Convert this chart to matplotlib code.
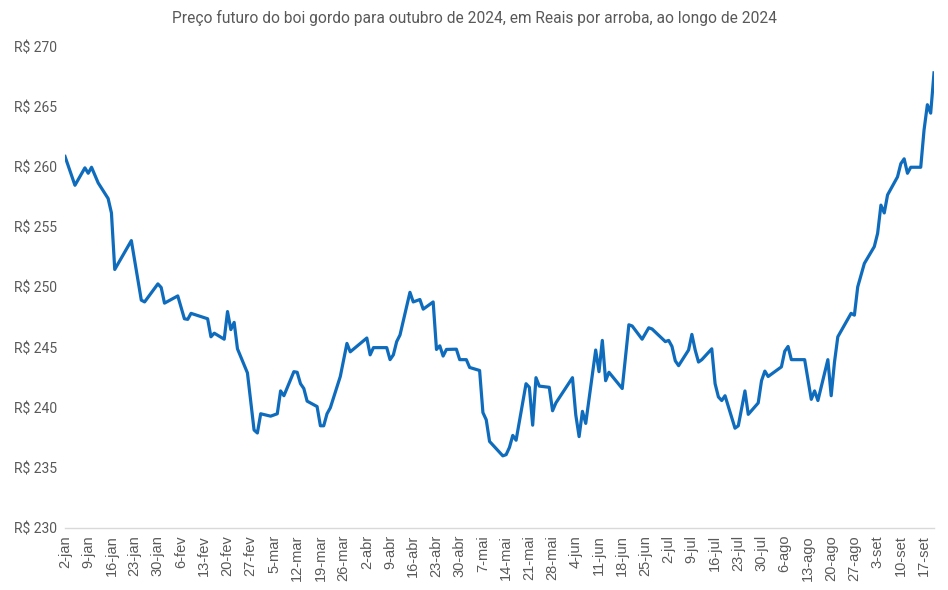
import matplotlib
matplotlib.use("Agg")
import matplotlib.pyplot as plt
import pandas as pd
import numpy as np

# --- data ---
dates = [
    "2024-01-02", "2024-01-05", "2024-01-08", "2024-01-09", "2024-01-10", "2024-01-12",
    "2024-01-15", "2024-01-16", "2024-01-17", "2024-01-22", "2024-01-25", "2024-01-26",
    "2024-01-30", "2024-01-31", "2024-02-01", "2024-02-05", "2024-02-07", "2024-02-08",
    "2024-02-09", "2024-02-14", "2024-02-15", "2024-02-16", "2024-02-19", "2024-02-20",
    "2024-02-21", "2024-02-22", "2024-02-23", "2024-02-26", "2024-02-28", "2024-02-29",
    "2024-03-01", "2024-03-04", "2024-03-06", "2024-03-07", "2024-03-08", "2024-03-11",
    "2024-03-12", "2024-03-13", "2024-03-14", "2024-03-15", "2024-03-18", "2024-03-19",
    "2024-03-20", "2024-03-21", "2024-03-22", "2024-03-25", "2024-03-27", "2024-03-28",
    "2024-04-02", "2024-04-03", "2024-04-04", "2024-04-08", "2024-04-09", "2024-04-10",
    "2024-04-11", "2024-04-12", "2024-04-15", "2024-04-16", "2024-04-18", "2024-04-19",
    "2024-04-22", "2024-04-23", "2024-04-24", "2024-04-25", "2024-04-26", "2024-04-29",
    "2024-04-30", "2024-05-02", "2024-05-03", "2024-05-06", "2024-05-07", "2024-05-08",
    "2024-05-09", "2024-05-13", "2024-05-14", "2024-05-15", "2024-05-16", "2024-05-17",
    "2024-05-20", "2024-05-21", "2024-05-22", "2024-05-23", "2024-05-24", "2024-05-27",
    "2024-05-28", "2024-05-29", "2024-06-03", "2024-06-04", "2024-06-05", "2024-06-06",
    "2024-06-07", "2024-06-10", "2024-06-11", "2024-06-12", "2024-06-13", "2024-06-14",
    "2024-06-18", "2024-06-20", "2024-06-21", "2024-06-24", "2024-06-26", "2024-06-27",
    "2024-07-01", "2024-07-02", "2024-07-03", "2024-07-04", "2024-07-05", "2024-07-08",
    "2024-07-09", "2024-07-10", "2024-07-11", "2024-07-12", "2024-07-15", "2024-07-16",
    "2024-07-17", "2024-07-18", "2024-07-19", "2024-07-22", "2024-07-23", "2024-07-25",
    "2024-07-26", "2024-07-29", "2024-07-30", "2024-07-31", "2024-08-01", "2024-08-05",
    "2024-08-06", "2024-08-07", "2024-08-08", "2024-08-12", "2024-08-14", "2024-08-15",
    "2024-08-16", "2024-08-19", "2024-08-20", "2024-08-21", "2024-08-22", "2024-08-26",
    "2024-08-27", "2024-08-28", "2024-08-30", "2024-09-02", "2024-09-03", "2024-09-04",
    "2024-09-05", "2024-09-06", "2024-09-09", "2024-09-10", "2024-09-11", "2024-09-12",
    "2024-09-13", "2024-09-16", "2024-09-17", "2024-09-18", "2024-09-19", "2024-09-20",
]
prices = [
    260.9, 258.5, 259.95, 259.5, 260.0, 258.7,
    257.4, 256.2, 251.5, 253.9, 248.95, 248.8,
    250.3, 250.0, 248.7, 249.3, 247.4, 247.35,
    247.85, 247.4, 245.9, 246.2, 245.7, 248.0,
    246.5, 247.1, 244.9, 242.9, 238.15, 237.9,
    239.5, 239.3, 239.5, 241.4, 241.0, 243.0,
    242.95, 242.0, 241.6, 240.55, 240.1, 238.5,
    238.5, 239.5, 240.0, 242.6, 245.35, 244.65,
    245.8, 244.4, 245.0, 245.0, 244.0, 244.4,
    245.5, 246.05, 249.6, 248.8, 249.0, 248.2,
    248.8, 244.85, 245.15, 244.3, 244.85, 244.87,
    244.0, 244.0, 243.35, 243.1, 239.6, 239.0,
    237.2, 236.0, 236.1, 236.7, 237.7, 237.3,
    242.0, 241.7, 238.55, 242.5, 241.8, 241.7,
    239.75, 240.4, 242.5, 239.4, 237.6, 239.7,
    238.7, 244.8, 243.0, 245.6, 242.25, 242.95,
    241.6, 246.9, 246.8, 245.7, 246.65, 246.55,
    245.5, 245.6, 245.1, 243.9, 243.5, 244.8,
    246.1, 244.8, 243.8, 244.0, 244.9, 242.0,
    240.9, 240.6, 241.0, 238.3, 238.5, 241.4,
    239.45, 240.4, 242.25, 243.05, 242.6, 243.4,
    244.7, 245.1, 244.0, 244.0, 240.7, 241.4,
    240.6, 244.0, 241.0, 243.8, 245.9, 247.85,
    247.7, 250.05, 252.0, 253.4, 254.5, 256.85,
    256.2, 257.7, 259.2, 260.3, 260.7, 259.5,
    260.0, 260.0, 263.1, 265.2, 264.5, 267.85,
]
tick_dates = pd.date_range("2024-01-02", "2024-09-17", freq="7D")
month_pt = ["jan", "fev", "mar", "abr", "mai", "jun", "jul", "ago", "set", "out", "nov", "dez"]
tick_labels = [f"{d.day}-{month_pt[d.month - 1]}" for d in tick_dates]
y_ticks = [230, 235, 240, 245, 250, 255, 260, 265, 270]
y_labels = [f"R$ {v}" for v in y_ticks]
title = "Preço futuro do boi gordo para outubro de 2024, em Reais por arroba, ao longo de 2024"

x = pd.to_datetime(dates)

plt.rcParams["font.family"] = ["Roboto", "DejaVu Sans"]
fig = plt.figure(figsize=(9.48, 5.90), dpi=100)
ax = fig.add_axes([65 / 948, 1 - 528 / 590, (934 - 65) / 948, (528 - 47) / 590])

ax.plot(x, prices, color="#0F6CBD", lw=2.3, solid_joinstyle="round")

ax.set_xlim(pd.Timestamp("2024-01-02"), pd.Timestamp("2024-09-20"))
ax.set_ylim(230, 270)
ax.set_yticks(y_ticks)
ax.set_yticklabels(y_labels)
ax.set_xticks(tick_dates)
ax.set_xticklabels(tick_labels, rotation=90, fontfamily=["Liberation Sans", "DejaVu Sans"])

for s in ["top", "right", "left"]:
    ax.spines[s].set_visible(False)
ax.spines["bottom"].set_color("#D9D9D9")
ax.spines["bottom"].set_linewidth(1.0)
ax.tick_params(axis="both", length=0, colors="#595959")
ax.tick_params(axis="y", pad=6, labelsize=10)
ax.tick_params(axis="x", pad=5, labelsize=10.5)

fig.text(474 / 948, 1 - 18 / 590, title, ha="center", va="center",
         fontsize=11.2, color="#595959")

fig.savefig("out.png", dpi=100)
